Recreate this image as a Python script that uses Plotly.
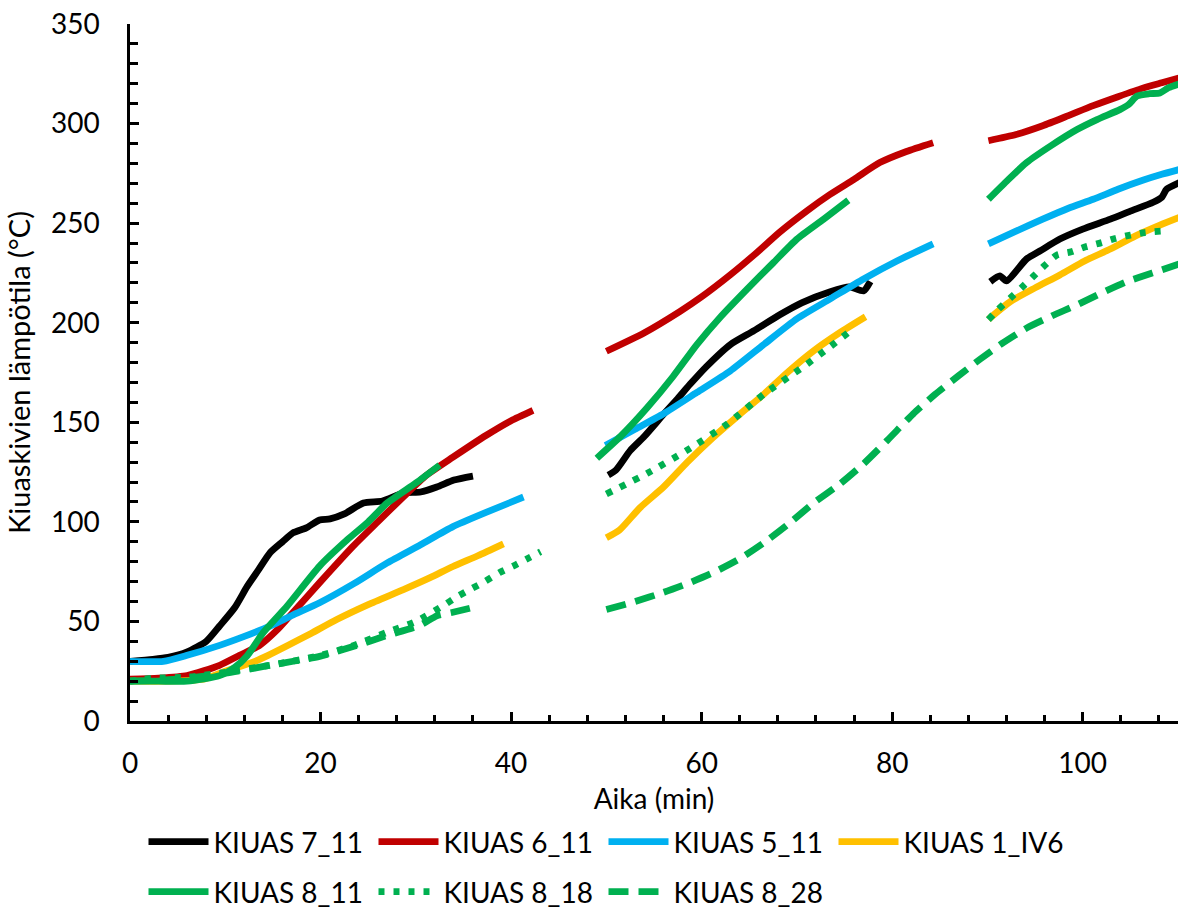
import plotly.graph_objects as go

# Sauna stove stone temperature during three consecutive heating runs.
# None separates the runs so each one is drawn as its own segment.

k7_11_x = [0, 2.4, 4, 6, 8, 9.4, 11, 12.3, 13.5, 14.7, 16, 17.1, 18.5, 19.9, 21, 22.5, 24.5, 26.5, 28.7, 30.5, 32.2, 34, 36,
           None,
           50.2, 51, 52.5, 54, 56, 57.5, 58.8, 60.5, 63, 65.5, 68.2, 70.5, 73.5, 75.5, 77, 77.7,
           None,
           90.3, 91.3, 92, 94.1, 95.5, 97.6, 100, 102.9, 105, 107.4, 108.3, 108.8, 110.2]
k7_11_y = [30, 31, 32, 34.7, 40, 47.7, 57, 67.6, 76, 84.5, 90, 94.5, 97, 101, 101.5, 104, 109.5, 110.5, 114.5, 115, 117.5, 121, 123,
           None,
           123.5, 126, 135.8, 143, 154, 162, 169.2, 178, 189, 196, 204, 210, 215.6, 218, 216, 220.7,
           None,
           220.6, 223.5, 221, 232, 236, 242, 247, 252, 256, 260.5, 263, 267, 270.5]

k6_11_x = [0, 3, 6, 9.4, 11.5, 13.6, 15.5, 17.1, 20, 23.4, 26, 28.7, 31, 33.9, 37.4, 40, 42.3,
           None,
           50, 54, 57.7, 60, 63, 65.5, 68.2, 71, 73.5, 76, 78.7, 81.5, 84.3,
           None,
           90.1, 93, 95.8, 98.5, 101.1, 103.7, 106.3, 108.3, 110.2]
k6_11_y = [21, 21.5, 22.8, 28, 33, 38, 46, 54.5, 70, 87.7, 100, 112.6, 123, 132.5, 143.5, 150.8, 156,
           None,
           185.7, 195, 205.6, 213, 224, 234, 245.5, 256, 264.5, 272, 280.4, 286, 290.4,
           None,
           291.4, 294.5, 298.9, 304, 309, 313.5, 317.8, 320.5, 323]

k5_11_x = [0, 3.5, 6, 9.4, 12, 14.7, 17, 19.9, 23.5, 27, 30.5, 33.9, 37.5, 41.3,
           None,
           49.9, 53, 56, 59.5, 63, 66.5, 70, 73.5, 77, 80.5, 84.3,
           None,
           90.1, 93, 95.8, 98.5, 101.1, 103.7, 106.3, 108.3, 110.2]
k5_11_y = [30, 30, 33, 38, 42.5, 47.7, 53, 59.4, 69, 79.4, 88.5, 97.6, 105, 112.5,
           None,
           138.4, 146.5, 154.3, 165, 175.8, 189, 202, 212, 222, 231, 239.6,
           None,
           239.6, 246, 252, 257.5, 262, 267, 271.5, 274.5, 277]

k1_iv6_x = [0, 4, 7.7, 10, 12.9, 14.5, 16.5, 19, 21.7, 25, 28.7, 31.5, 33.9, 36.5, 39.2,
            None,
            50, 51.4, 53.5, 56, 58.5, 61.2, 64, 66.5, 69, 71.7, 74.5, 77.2,
            None,
            90.1, 92.4, 95, 97.6, 100.2, 102.9, 105.5, 108.1, 110.2]
k1_iv6_y = [20, 20, 21, 25, 29.6, 33, 37.8, 44, 51, 58.5, 66, 72, 77.6, 83, 89,
            None,
            92, 96, 107, 117.5, 130, 142.4, 154, 164, 175, 185.7, 195, 203,
            None,
            201.7, 210.6, 217.5, 224, 231, 237, 243.5, 249, 253]

k8_11_x = [0, 3, 6, 9.4, 11, 12.3, 14, 16.5, 19.9, 22.8, 25, 27, 30, 32.5,
           None,
           49, 51.5, 54.3, 57, 59.5, 62, 64.8, 67.5, 70, 72.8, 75.4,
           None,
           90.1, 92, 94.1, 96.7, 99.4, 101.5, 103.9, 104.8, 105.7, 107, 108.1, 109, 110.2]
k8_11_y = [20, 20, 20, 22.8, 27, 32.8, 44.5, 57.8, 77.8, 91, 100, 109.5, 119.5, 128.5,
           None,
           132, 143, 157.4, 173, 189, 203, 217, 230, 242, 252, 261.5,
           None,
           262, 271, 280.4, 289, 297, 302, 307, 309.5, 313.8, 315, 315.4, 318, 320]

k8_18_x = [0, 2.4, 6, 10, 14.7, 19.9, 23.5, 27, 30, 32.9, 34.4, 35.9, 37.3, 38.8, 40.3, 41.7, 43.1,
           None,
           50, 54.3, 58.4, 62.7, 66.5, 70.7, 73.5, 75.9,
           None,
           90.1, 91.1, 92.4, 93.6, 94.8, 96, 97.3, 98.8, 100.3, 101.9, 103.4, 105, 106.5, 108.3]
k8_18_y = [20, 21.5, 22, 24.5, 28, 32.8, 38, 44.6, 50, 58, 62.7, 66.6, 70.2, 74.6, 78, 81.5, 85,
           None,
           114, 124.4, 135.8, 149.2, 164, 178, 188, 197,
           None,
           201.6, 206.6, 212.4, 217.7, 223.2, 228.7, 234, 235.6, 238.1, 240.1, 242.3, 244, 245.3, 246]

k8_28_x = [0, 3, 6, 10, 14.7, 19.9, 23.5, 27, 30.4, 32.2, 33.9, 36,
           None,
           50, 53, 56, 58.5, 61.2, 64, 66.5, 69, 71.7, 74.5, 77, 79.5, 82.2, 84.5, 87, 89.2,
           91.5, 94.1, 96.8, 99.4, 102, 104.6, 107.3, 110.2]
k8_28_y = [20, 20.5, 21.5, 24, 28, 32.5, 37.5, 43, 48, 52.8, 54.6, 57,
           None,
           56, 60, 64.6, 69, 74.5, 81.5, 89.4, 98.5, 109.3, 119, 129.2, 141, 154.2, 164, 173.5, 181.6,
           189.5, 197.3, 203.5, 209, 215, 220.6, 225, 229.6]

names = ["KIUAS 7_11", "KIUAS 6_11", "KIUAS 5_11", "KIUAS 1_IV6",
         "KIUAS 8_11", "KIUAS 8_18", "KIUAS 8_28"]

BLACK = "#000000"
RED = "#C00000"
BLUE = "#00B0F0"
YELLOW = "#FFC000"
GREEN = "#00B050"

# (x, y, colour, dash pattern, legend row)
series = [
    (k7_11_x, k7_11_y, BLACK, "solid", "legend"),
    (k6_11_x, k6_11_y, RED, "solid", "legend"),
    (k5_11_x, k5_11_y, BLUE, "solid", "legend"),
    (k1_iv6_x, k1_iv6_y, YELLOW, "solid", "legend"),
    (k8_11_x, k8_11_y, GREEN, "solid", "legend2"),
    (k8_18_x, k8_18_y, GREEN, "6px,9px", "legend2"),
    (k8_28_x, k8_28_y, GREEN, "20px,10px", "legend2"),
]

FONT = "Lato"

fig = go.Figure()
for name, (xs, ys, color, dash, leg) in zip(names, series):
    fig.add_trace(go.Scatter(
        x=xs, y=ys, name=name, mode="lines",
        line=dict(color=color, width=6.8, dash=dash, shape="spline", smoothing=0.6),
        connectgaps=False, legend=leg,
    ))

legend_common = dict(
    orientation="h", xref="container", yref="container",
    x=0.1212, xanchor="left", yanchor="top",
    font=dict(family=FONT, size=28, color="black"),
    itemwidth=60, entrywidth=155, entrywidthmode="pixels",
    bgcolor="rgba(0,0,0,0)",
)

fig.update_layout(
    width=1184, height=910,
    margin=dict(l=130, r=6, t=21, b=187),
    paper_bgcolor="white", plot_bgcolor="white",
    font=dict(family=FONT, size=28, color="black"),
    showlegend=True,
    legend=dict(legend_common, y=0.1022),
    legend2=dict(legend_common, y=0.0473),
)

fig.update_xaxes(
    range=[0, 110], dtick=20, tick0=0,
    showline=True, linecolor="black", linewidth=2.5,
    showgrid=False, zeroline=False,
    ticks="inside", ticklen=9, tickwidth=2.5, tickcolor="black",
    ticklabelstandoff=16,
    minor=dict(dtick=4, tick0=0, ticks="inside", ticklen=6, tickwidth=2.5, tickcolor="black", showgrid=False),
    title=dict(text="Aika (min)", font=dict(family=FONT, size=28), standoff=12),
)
fig.update_yaxes(
    range=[0, 350], dtick=50, tick0=0,
    showline=True, linecolor="black", linewidth=2.5,
    showgrid=False, zeroline=False,
    ticks="inside", ticklen=9, tickwidth=2.5, tickcolor="black",
    ticklabelstandoff=22,
    minor=dict(dtick=10, tick0=0, ticks="inside", ticklen=8, tickwidth=2.5, tickcolor="black", showgrid=False),
    title=dict(text="Kiuaskivien lämpötila (°C)", font=dict(family=FONT, size=29), standoff=12),
)

fig.write_html("out.html")
